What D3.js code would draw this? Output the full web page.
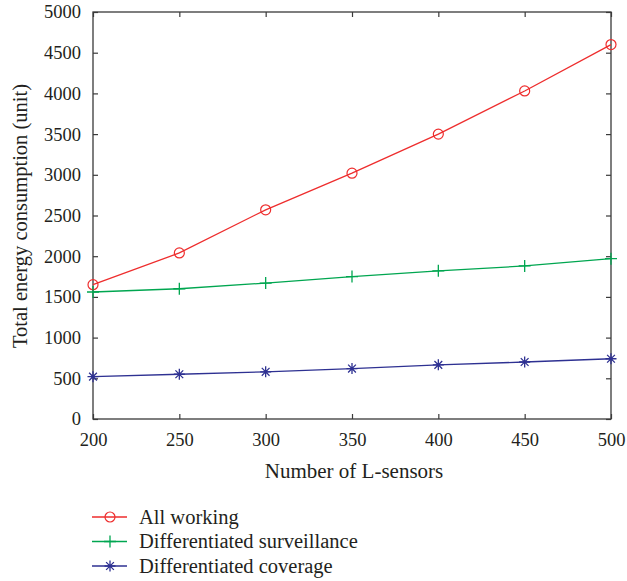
<!DOCTYPE html>
<html>
<head>
<meta charset="utf-8">
<script src="https://cdn.jsdelivr.net/npm/d3@7"></script>
<style>
  html, body { margin: 0; padding: 0; background: #fff; }
  svg { display: block; }
</style>
</head>
<body>
<svg id="chart" width="627" height="581"></svg>
<script>
// L-sensor counts on the x axis
const sensors = [200, 250, 300, 350, 400, 450, 500];
// Total energy consumption per strategy
const allWorking = [1650, 2040, 2570, 3020, 3500, 4030, 4600];
const diffSurveillance = [1560, 1600, 1670, 1750, 1820, 1880, 1970];
const diffCoverage = [520, 550, 580, 620, 665, 700, 740];
const seriesNames = ["All working", "Differentiated surveillance", "Differentiated coverage"];
const xTicks = [200, 250, 300, 350, 400, 450, 500];
const yTicks = [0, 500, 1000, 1500, 2000, 2500, 3000, 3500, 4000, 4500, 5000];

const FONT = "'Liberation Serif', 'DejaVu Serif', serif";
const TEXT_COLOR = "#231f20";

const svg = d3.select("#chart");
const plotL = 93, plotR = 611, plotT = 12, plotB = 419;

const x = d3.scaleLinear().domain([200, 500]).range([plotL, plotR]);
const y = d3.scaleLinear().domain([0, 5000]).range([plotB, plotT]);

const axisColor = "#3a3a3a";
const tickLen = 5;

// Frame
svg.append("rect")
  .attr("x", plotL).attr("y", plotT)
  .attr("width", plotR - plotL).attr("height", plotB - plotT)
  .attr("fill", "none").attr("stroke", axisColor).attr("stroke-width", 1.3);

// Axes with inward ticks on all four sides
function styleAxis(g) {
  g.attr("font-family", FONT).attr("font-size", 18.5);
  g.select(".domain").remove();
  g.selectAll(".tick line").attr("stroke", axisColor).attr("stroke-width", 1.2);
  g.selectAll(".tick text").attr("fill", TEXT_COLOR)
    .attr("font-family", FONT).attr("font-size", 18.5);
}

svg.append("g").attr("transform", `translate(0,${plotB})`)
  .call(d3.axisBottom(x).tickValues(xTicks).tickFormat(d3.format("d"))
    .tickSizeInner(-tickLen).tickSizeOuter(0).tickPadding(14))
  .call(styleAxis);
svg.append("g").attr("transform", `translate(0,${plotT})`)
  .call(d3.axisTop(x).tickValues(xTicks).tickFormat("")
    .tickSizeInner(-tickLen).tickSizeOuter(0))
  .call(styleAxis);
svg.append("g").attr("transform", `translate(${plotL},0)`)
  .call(d3.axisLeft(y).tickValues(yTicks).tickFormat(d3.format("d"))
    .tickSizeInner(-tickLen).tickSizeOuter(0).tickPadding(12))
  .call(styleAxis);
svg.append("g").attr("transform", `translate(${plotR},0)`)
  .call(d3.axisRight(y).tickValues(yTicks).tickFormat("")
    .tickSizeInner(-tickLen).tickSizeOuter(0))
  .call(styleAxis);

// Axis titles
svg.append("text")
  .attr("x", 354).attr("y", 478)
  .attr("text-anchor", "middle")
  .attr("font-family", FONT).attr("font-size", 21).attr("fill", TEXT_COLOR)
  .text("Number of L-sensors");
svg.append("text")
  .attr("transform", "translate(27,216) rotate(-90)")
  .attr("text-anchor", "middle")
  .attr("font-family", FONT).attr("font-size", 20.5).attr("fill", TEXT_COLOR)
  .text("Total energy consumption (unit)");

// Marker drawers
function circleMarker(g, color) {
  g.append("circle").attr("r", 5).attr("fill", "none")
    .attr("stroke", color).attr("stroke-width", 1.2);
}
function plusMarker(g, color) {
  g.append("path").attr("d", "M-6,0H6M0,-6V6")
    .attr("stroke", color).attr("stroke-width", 1.3).attr("fill", "none");
}
function starMarker(g, color) {
  const r = 5.5, p = [];
  for (let k = 0; k < 4; k++) {
    const a = k * Math.PI / 4;
    const dx = r * Math.sin(a), dy = r * Math.cos(a);
    p.push(`M${-dx},${-dy}L${dx},${dy}`);
  }
  g.append("path").attr("d", p.join(""))
    .attr("stroke", color).attr("stroke-width", 1.3).attr("fill", "none");
}

const series = [
  { name: seriesNames[0], values: allWorking, color: "#ee2d2d", marker: circleMarker },
  { name: seriesNames[1], values: diffSurveillance, color: "#00a650", marker: plusMarker },
  { name: seriesNames[2], values: diffCoverage, color: "#2e3192", marker: starMarker }
];

const line = d3.line().x((d, i) => x(sensors[i])).y(d => y(d));

series.forEach(s => {
  svg.append("path").datum(s.values)
    .attr("d", line).attr("fill", "none")
    .attr("stroke", s.color).attr("stroke-width", 1.3);
  s.values.forEach((v, i) => {
    const g = svg.append("g").attr("transform", `translate(${x(sensors[i])},${y(v)})`);
    s.marker(g, s.color);
  });
});

// Legend
const legend = svg.append("g");
series.forEach((s, i) => {
  const ly = 517 + i * 24.5;
  legend.append("line").attr("x1", 92).attr("x2", 127)
    .attr("y1", ly).attr("y2", ly)
    .attr("stroke", s.color).attr("stroke-width", 1.3);
  const g = legend.append("g").attr("transform", `translate(110,${ly})`);
  s.marker(g, s.color);
  legend.append("text").attr("x", 139).attr("y", ly + 6.5)
    .attr("font-family", FONT).attr("font-size", 20.5).attr("fill", TEXT_COLOR)
    .text(s.name);
});
</script>
</body>
</html>
